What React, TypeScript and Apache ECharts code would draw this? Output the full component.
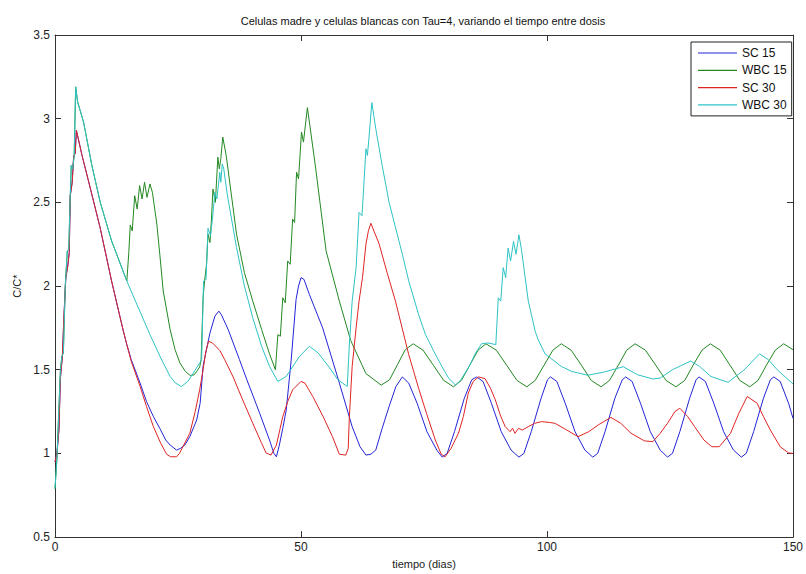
import React, { useEffect, useRef } from 'react';
import * as echarts from 'echarts';

const titleText = 'Celulas madre y celulas blancas con Tau=4, variando el tiempo entre dosis';
const xName = 'tiempo (dias)';
const yName = 'C/C*';
const seriesNames = ['SC 15', 'WBC 15', 'SC 30', 'WBC 30'];
const seriesColors = ['#2424d8', '#238823', '#e02424', '#2ec3c3'];

// shared first dose (identical for both schedules)
const scEarly: number[][] = [
  [0, 0.95], [0.4, 1.0], [0.8, 1.14], [1.1, 1.45], [1.5, 1.58], [1.8, 1.81], [2.2, 2.05], [2.6, 2.12],
  [2.9, 2.2], [3.1, 2.54], [3.5, 2.62], [3.8, 2.78], [4.1, 2.79], [4.35, 2.93], [5.5, 2.78], [7.3, 2.57],
  [9.2, 2.345], [11.5, 2.03], [13.9, 1.73], [14.6, 1.65],
];
const wbcEarly: number[][] = [
  [0, 0.79], [0.4, 0.97], [0.7, 1.2], [1.1, 1.5], [1.4, 1.58], [1.7, 1.6], [2.1, 2.01], [2.5, 2.21],
  [2.8, 2.22], [3.0, 2.44], [3.3, 2.72], [3.6, 2.7], [3.9, 2.78], [4.2, 3.19], [4.6, 3.1], [5.8, 2.98],
  [7.5, 2.72], [9.2, 2.5], [11.5, 2.27], [14.6, 2.03],
];

const sc15Rest: number[][] = [
  [15.5, 1.56], [17.3, 1.42], [18.6, 1.31], [20, 1.22], [21.3, 1.15], [22.5, 1.08], [23.4, 1.05], [24.7, 1.02],
  [25.5, 1.03], [26.4, 1.05], [27.4, 1.1], [28.8, 1.2], [29.5, 1.3], [30.1, 1.52], [30.5, 1.58], [31.5, 1.72],
  [32.5, 1.82], [33.3, 1.85], [33.8, 1.83], [35.2, 1.74], [37.5, 1.56], [39, 1.44], [41.6, 1.24], [43.6, 1.08],
  [44.5, 1.0], [45, 0.98], [45.6, 1.05], [46.3, 1.15], [47, 1.26], [48, 1.556], [49, 1.92], [49.5, 2.0],
  [50, 2.05], [50.6, 2.04], [51.7, 1.95], [54.4, 1.75], [57.8, 1.42], [60.4, 1.16], [62, 1.04], [63.2, 0.99],
  [64.2, 0.995], [65.2, 1.02], [66.5, 1.15], [67.9, 1.28], [69.3, 1.4], [70.6, 1.457], [71.9, 1.42], [73.6, 1.3],
  [75.6, 1.13], [77.6, 1.02], [78.7, 0.978], [79.7, 1.0], [81.2, 1.13], [83.2, 1.33], [84.7, 1.44], [85.7, 1.457],
  [87, 1.43], [88.7, 1.3], [90.7, 1.13], [92.7, 1.02], [94.3, 0.978], [95.3, 1.0], [96.8, 1.13], [98.8, 1.33],
  [100.1, 1.44], [100.7, 1.457], [102, 1.43], [103.7, 1.3], [105.7, 1.13], [107.7, 1.02], [109.3, 0.978], [110.3, 1.0],
  [111.8, 1.13], [113.8, 1.33], [115.3, 1.44], [116, 1.457], [117.3, 1.43], [119, 1.3], [121, 1.13], [123, 1.02],
  [124.5, 0.978], [125.5, 1.0], [127, 1.13], [129, 1.33], [130.3, 1.44], [130.9, 1.457], [132.2, 1.43], [133.9, 1.3],
  [135.9, 1.13], [137.9, 1.02], [139.5, 0.978], [140.5, 1.0], [142, 1.13], [144, 1.33], [145.4, 1.44], [146.1, 1.457],
  [147.4, 1.43], [149.1, 1.3], [150, 1.21],
];

const wbc15Rest: number[][] = [
  [15.0, 2.2], [15.3, 2.365], [15.7, 2.33], [16.2, 2.54], [16.7, 2.46], [17.2, 2.6], [17.7, 2.52], [18.2, 2.62],
  [18.7, 2.53], [19.3, 2.61], [19.8, 2.56], [20.7, 2.37], [21.3, 2.19], [22, 1.97], [23.4, 1.74], [24.4, 1.62],
  [25.4, 1.54], [26.5, 1.49], [27.5, 1.465], [28.3, 1.47], [28.8, 1.49], [29.4, 1.516], [29.7, 1.56], [30.1, 1.93],
  [30.4, 2.03], [30.8, 2.13], [31.1, 2.31], [31.5, 2.26], [31.8, 2.4], [32.1, 2.58], [32.6, 2.5], [33.1, 2.77],
  [33.4, 2.7], [33.7, 2.76], [34.1, 2.89], [34.8, 2.78], [36.9, 2.31], [38.5, 2.08], [40.2, 1.91], [42, 1.74],
  [43.6, 1.595], [44.8, 1.5], [45.3, 1.71], [45.8, 1.7], [46.3, 1.93], [46.8, 1.9], [47.3, 2.15], [47.8, 2.13],
  [48.3, 2.4], [48.7, 2.38], [49.1, 2.68], [49.5, 2.64], [50.1, 2.92], [50.5, 2.86], [51.3, 3.066], [51.8, 2.96],
  [53, 2.7], [55.1, 2.21], [57.8, 1.91], [60.1, 1.675], [63.2, 1.477], [66.3, 1.408], [68.0, 1.44], [69.6, 1.53],
  [71.2, 1.62], [72.8, 1.655], [74.8, 1.617], [76.9, 1.527], [79.0, 1.436], [81.0, 1.398], [82.6, 1.436], [84.3, 1.527],
  [86.0, 1.617], [87.6, 1.655], [89.7, 1.617], [91.8, 1.527], [93.9, 1.436], [95.9, 1.398], [97.6, 1.436], [99.4, 1.527],
  [101.2, 1.617], [102.9, 1.655], [104.9, 1.617], [107.0, 1.527], [109.0, 1.436], [111.0, 1.398], [112.7, 1.436], [114.5, 1.527],
  [116.2, 1.617], [117.9, 1.655], [120.0, 1.617], [122.1, 1.527], [124.2, 1.436], [126.2, 1.398], [128.0, 1.436], [129.7, 1.527],
  [131.5, 1.617], [133.2, 1.655], [135.2, 1.617], [137.2, 1.527], [139.2, 1.436], [141.2, 1.398], [142.9, 1.436], [144.6, 1.527],
  [146.4, 1.617], [148.1, 1.655], [150, 1.62],
];

const sc30Rest: number[][] = [
  [15.5, 1.55], [17.3, 1.4], [18.6, 1.28], [20, 1.16], [21.5, 1.06], [22.7, 0.995], [23.5, 0.98], [24.7, 0.98],
  [25.3, 1.0], [26, 1.04], [27.4, 1.12], [28.5, 1.25], [29.4, 1.38], [30.1, 1.5], [30.6, 1.6], [31.2, 1.67],
  [32, 1.66], [33.5, 1.615], [34.5, 1.56], [36.2, 1.457], [38, 1.33], [40.2, 1.18], [42, 1.06], [42.9, 1.003],
  [43.9, 0.99], [45, 1.05], [46.3, 1.22], [47.3, 1.31], [48.3, 1.38], [50, 1.43], [50.8, 1.42], [52.4, 1.34],
  [54.5, 1.22], [56.4, 1.1], [57.8, 0.995], [59.1, 0.99], [59.6, 1.03], [59.8, 1.2], [60.4, 1.52], [61.2, 1.75],
  [61.8, 1.91], [62.5, 2.05], [63.2, 2.25], [63.7, 2.33], [64.2, 2.375], [65.9, 2.25], [67.5, 2.08], [69.2, 1.91],
  [71.9, 1.59], [73.9, 1.39], [75.5, 1.24], [77.3, 1.08], [78.5, 0.995], [79.3, 0.98], [80.5, 1.03], [82, 1.12],
  [83, 1.22], [84, 1.36], [85, 1.43], [86.1, 1.457], [87.4, 1.447], [88.5, 1.39], [89.5, 1.32], [90.5, 1.23],
  [91.5, 1.16], [92.5, 1.13], [93, 1.15], [93.5, 1.12], [94.2, 1.15], [95, 1.14], [96.2, 1.16], [97.5, 1.18],
  [98.9, 1.19], [100.5, 1.185], [101.6, 1.18], [104, 1.14], [106.3, 1.1], [108.5, 1.13], [110.4, 1.17], [113, 1.215],
  [115, 1.18], [117.1, 1.12], [119.8, 1.075], [121.5, 1.07], [123, 1.12], [124.5, 1.18], [126, 1.25], [127, 1.27],
  [128.6, 1.22], [130, 1.16], [131.9, 1.08], [133.5, 1.04], [135, 1.04], [137.3, 1.12], [139, 1.24], [140.7, 1.34],
  [142.7, 1.3], [144, 1.22], [145.4, 1.14], [147.4, 1.04], [149.1, 1.003], [150, 1.0],
];

const wbc30Rest: number[][] = [
  [16.5, 1.9], [19.3, 1.71], [21.5, 1.57], [23.4, 1.46], [24.5, 1.42], [25.7, 1.4], [27, 1.43], [28.1, 1.48],
  [29.4, 1.54], [29.8, 1.556], [30.0, 1.8], [30.2, 2.03], [30.7, 2.04], [31.1, 2.345], [31.6, 2.3], [32.0, 2.4],
  [32.5, 2.56], [32.9, 2.52], [33.5, 2.68], [33.7, 2.62], [34.0, 2.73], [34.3, 2.7], [35.0, 2.55], [36.9, 2.23],
  [38.5, 2.0], [40.2, 1.81], [42, 1.64], [43.6, 1.52], [45.3, 1.43], [47, 1.46], [49.7, 1.58], [51.7, 1.64],
  [53.5, 1.6], [55.7, 1.516], [57.5, 1.44], [59.4, 1.4], [59.8, 1.635], [60.4, 1.91], [61.2, 2.11], [61.8, 2.44],
  [62.4, 2.42], [63.2, 2.82], [63.5, 2.78], [63.8, 2.88], [64.4, 3.096], [65.2, 2.94], [66.5, 2.72], [67.9, 2.5],
  [70.6, 2.19], [71.9, 2.03], [73.9, 1.83], [75.3, 1.71], [77, 1.61], [78.7, 1.516], [80, 1.45], [81.4, 1.408],
  [82.5, 1.44], [84.1, 1.516], [85.5, 1.6], [86.7, 1.655], [88, 1.66], [89.6, 1.65], [90.1, 1.93], [90.6, 1.91],
  [91.1, 2.11], [91.6, 2.05], [92.1, 2.227], [92.6, 2.15], [93.2, 2.267], [93.7, 2.19], [94.3, 2.306], [94.8, 2.22],
  [96.2, 1.91], [97.6, 1.73], [98.2, 1.68], [99.6, 1.595], [102.9, 1.52], [105, 1.49], [108.3, 1.467], [111.7, 1.487],
  [115.5, 1.518], [118.4, 1.47], [121.5, 1.445], [123, 1.45], [125.5, 1.5], [129.2, 1.552], [131, 1.52], [133.3, 1.46],
  [136.8, 1.425], [140, 1.497], [143.2, 1.595], [145, 1.56], [146.8, 1.5], [150, 1.415],
];

const xTicks = { min: 0, max: 150, interval: 50 };
const yTicks = { min: 0.5, max: 3.5, interval: 0.5 };

const FONT = 'Liberation Sans, Arial, sans-serif';

export default function App() {
  const ref = useRef<HTMLDivElement>(null);
  useEffect(() => {
    document.body.style.margin = '0';
    const chart = echarts.init(ref.current!, null, { renderer: 'svg' });
    const axisLine = { show: true, onZero: false, lineStyle: { color: '#333', width: 1 } };
    const tick = { show: true, inside: true, length: 6, lineStyle: { color: '#333', width: 1 } };
    const seriesData = [
      scEarly.concat(sc15Rest),
      wbcEarly.concat(wbc15Rest),
      scEarly.concat(sc30Rest),
      wbcEarly.concat(wbc30Rest),
    ];
    chart.setOption({
      animation: false,
      backgroundColor: '#ffffff',
      textStyle: { fontFamily: FONT },
      grid: { left: 55, right: 10, top: 35, bottom: 32, containLabel: false },
      graphic: [
        {
          type: 'text',
          x: 423,
          y: 21,
          style: {
            text: titleText,
            textAlign: 'center',
            textVerticalAlign: 'middle',
            fontSize: 11,
            fontFamily: FONT,
            fill: '#111',
          },
        },
      ],
      xAxis: [
        {
          type: 'value',
          ...xTicks,
          position: 'bottom',
          axisLine,
          axisTick: tick,
          splitLine: { show: false },
          axisLabel: { fontSize: 12, color: '#222', margin: 4, fontFamily: FONT },
          name: xName,
          nameLocation: 'middle',
          nameGap: 18,
          nameTextStyle: { fontSize: 11, color: '#222', fontFamily: FONT },
        },
        {
          type: 'value',
          ...xTicks,
          position: 'top',
          axisLine,
          axisTick: tick,
          splitLine: { show: false },
          axisLabel: { show: false },
        },
      ],
      yAxis: [
        {
          type: 'value',
          ...yTicks,
          position: 'left',
          axisLine,
          axisTick: tick,
          splitLine: { show: false },
          axisLabel: { fontSize: 12, color: '#222', margin: 5, fontFamily: FONT },
          name: yName,
          nameLocation: 'middle',
          nameGap: 33,
          nameTextStyle: { fontSize: 11, color: '#222', fontFamily: FONT },
        },
        {
          type: 'value',
          ...yTicks,
          position: 'right',
          axisLine,
          axisTick: tick,
          splitLine: { show: false },
          axisLabel: { show: false },
        },
      ],
      legend: {
        data: seriesNames,
        orient: 'vertical',
        left: 691,
        top: 42,
        padding: [4, 5, 4, 7],
        icon: 'rect',
        itemWidth: 39,
        itemHeight: 1.2,
        itemGap: 3.3,
        borderColor: '#222',
        borderWidth: 1,
        backgroundColor: '#fff',
        textStyle: { fontSize: 12, lineHeight: 14, color: '#111', fontFamily: FONT },
      },
      series: seriesNames.map((name, i) => ({
        name,
        type: 'line',
        xAxisIndex: 0,
        yAxisIndex: 0,
        data: seriesData[i],
        symbol: 'none',
        showSymbol: false,
        color: seriesColors[i],
        lineStyle: { color: seriesColors[i], width: 1 },
      })),
    });
    return () => chart.dispose();
  }, []);
  return <div ref={ref} style={{ width: 806, height: 574 }} />;
}
